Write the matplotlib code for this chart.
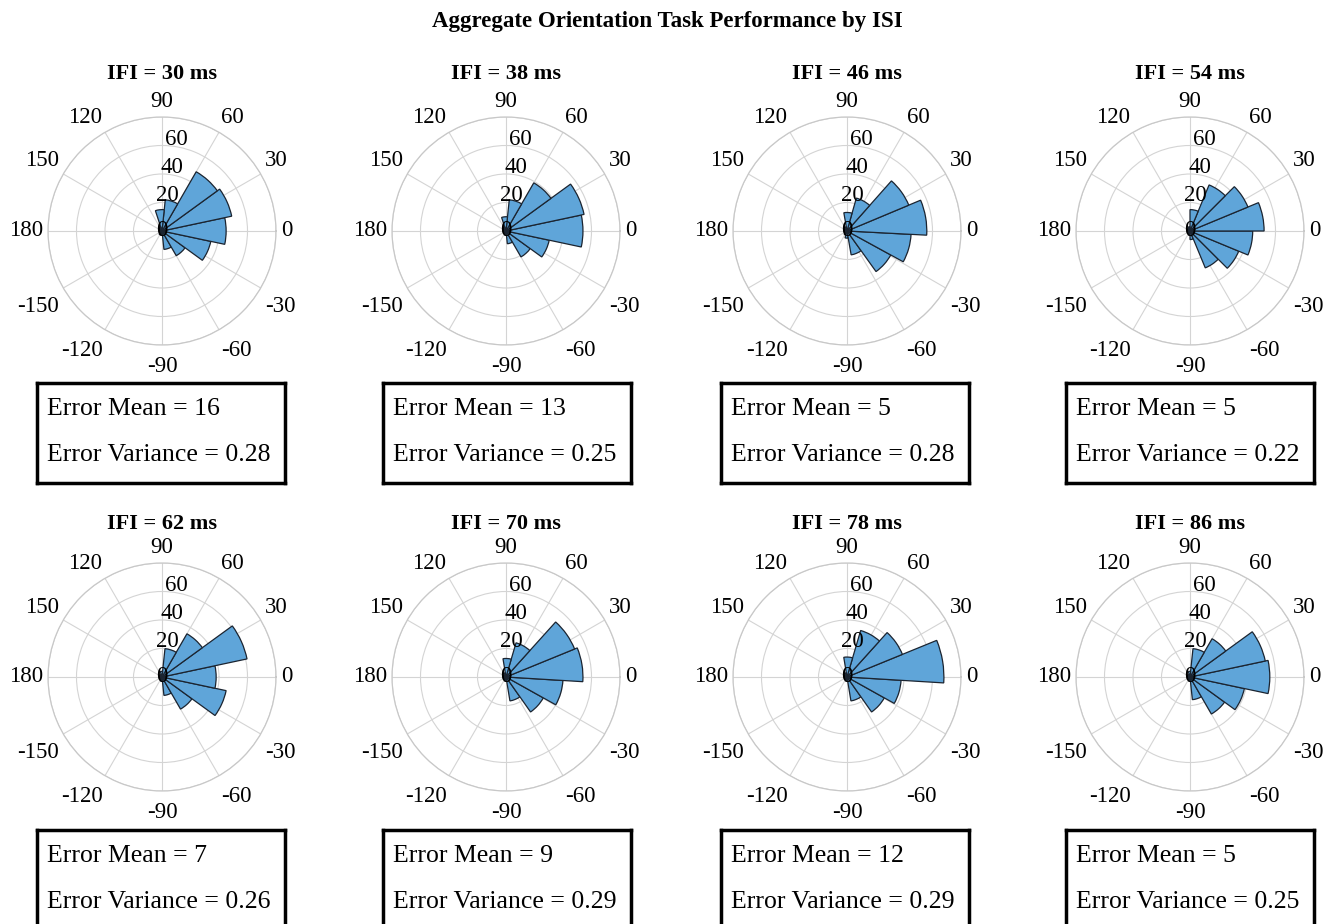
import numpy as np
import matplotlib.pyplot as plt

plt.rcParams['font.family'] = ['Liberation Serif', 'DejaVu Serif']

ifi = [30, 38, 46, 54, 62, 70, 78, 86]
err_mean = [16, 13, 5, 5, 7, 9, 12, 5]
err_var = [0.28, 0.25, 0.28, 0.22, 0.26, 0.29, 0.29, 0.25]

# bin layout of each histogram: first edge (deg) and bin width (deg)
first_edge = [-180, -180, -183, -180, -180, -183.5, -183.5, -180]
bin_width = [24, 24, 360 / 14, 22.5, 24, 360 / 14, 360 / 14, 24]

# counts per bin, going counter-clockwise from first_edge
counts_30 = [2, 2, 3, 3, 13, 20, 35, 45, 50, 48, 22, 15, 3, 2, 2]
counts_38 = [2, 2, 2, 3, 9, 21, 31, 54, 56, 39, 22, 10, 3, 2, 2]
counts_46 = [2, 2, 3, 5, 17, 35, 45, 56, 47, 24, 13, 3, 2, 2]
counts_54 = [2, 2, 2, 3, 6, 28, 37, 44, 52, 44, 35, 15, 3, 2, 2, 2]
counts_62 = [2, 2, 2, 3, 13, 26, 46, 38, 61, 35, 20, 4, 2, 2, 2]
counts_70 = [2, 2, 2, 3, 17, 30, 40, 54, 52, 25, 13, 3, 2, 2]
counts_78 = [2, 2, 2, 3, 17, 30, 38, 68, 42, 34, 14, 3, 2, 2]
counts_86 = [2, 2, 2, 3, 16, 30, 39, 56, 54, 31, 20, 4, 2, 2, 2]
all_counts = [counts_30, counts_38, counts_46, counts_54,
              counts_62, counts_70, counts_78, counts_86]

theta_ticks = [0, 30, 60, 90, 120, 150, 180, 210, 240, 270, 300, 330]
theta_labels = ['0', '30', '60', '90', '120', '150', '180',
                '-150', '-120', '-90', '-60', '-30']
r_ticks = [0, 20, 40, 60, 80]
r_labels = ['0', '20', '40', '60']
RMAX = 80

W, H = 1335, 924
cx = [162, 506, 847, 1190]
cy = [231, 677]
title_y = [74, 524]
R = 114
FS = 16.5

fig = plt.figure(figsize=(W / 100, H / 100), dpi=100)
fig.text(667 / W, 1 - 21 / H, 'Aggregate Orientation Task Performance by ISI',
         ha='center', va='center', fontsize=16.5, fontweight='bold')

box_x = [37, 383, 721, 1066]
box_y = [383, 830]


def side(v, neg, mid, pos):
    if v > 1e-6:
        return pos
    if v < -1e-6:
        return neg
    return mid


for i in range(8):
    row, col = i // 4, i % 4
    x0, y0 = cx[col], cy[row]
    ax = fig.add_axes([(x0 - R) / W, 1 - (y0 + R) / H, 2 * R / W, 2 * R / H],
                      projection='polar')
    c = np.array(all_counts[i], dtype=float)
    w = bin_width[i]
    centres = first_edge[i] + w * (np.arange(len(c)) + 0.5)
    ax.bar(np.deg2rad(centres), c, width=np.deg2rad(w), color='#5fa5d9',
           edgecolor='#1b2430', linewidth=0.9, zorder=3)
    ax.set_ylim(0, RMAX)
    ax.set_yticks(r_ticks)
    ax.set_yticklabels([])
    ax.set_xticks(np.deg2rad(theta_ticks))
    ax.set_xticklabels([])
    ax.grid(True, color='#d4d4d4', linewidth=0.8)
    ax.spines['polar'].set_color('#c8c8c8')
    ax.spines['polar'].set_linewidth(0.9)
    ax.set_axisbelow(True)

    # angle labels anchored just outside the rim, aligned away from it
    r_lab = (R + 5) / R * RMAX
    for th, lab in zip(theta_ticks, theta_labels):
        a = np.deg2rad(th)
        dy = -4.3 if np.sin(a) < -1e-6 else 0
        ax.annotate(lab, xy=(a, r_lab), xytext=(0, dy),
                    textcoords='offset points', fontsize=FS,
                    annotation_clip=False,
                    ha=side(np.cos(a), 'right', 'center', 'left'),
                    va=side(np.sin(a), 'top', 'center', 'bottom'))

    # radius labels along the 80 degree spoke
    for rv, lab in zip(r_ticks, r_labels):
        ax.text(np.deg2rad(81), rv + 5 if rv else 0, lab, ha='center',
                va='center', fontsize=FS, zorder=5, clip_on=False)

    fig.text(x0 / W, 1 - title_y[row] / H, 'IFI = %d ms' % ifi[i],
             ha='center', va='center', fontsize=16, fontweight='bold')

    # text box underneath each rose plot
    bx, by = box_x[col], box_y[row]
    tb = fig.add_axes([bx / W, 1 - (by + 100) / H, 248 / W, 100 / H])
    tb.set_xticks([])
    tb.set_yticks([])
    for s in tb.spines.values():
        s.set_linewidth(2.5)
    tb.text(0.04, 0.74, 'Error Mean = %d' % err_mean[i], transform=tb.transAxes,
            ha='left', va='center', fontsize=18.5)
    tb.text(0.04, 0.28, 'Error Variance = %.2f' % err_var[i], transform=tb.transAxes,
            ha='left', va='center', fontsize=18.5)

fig.savefig('out.png', dpi=100)
